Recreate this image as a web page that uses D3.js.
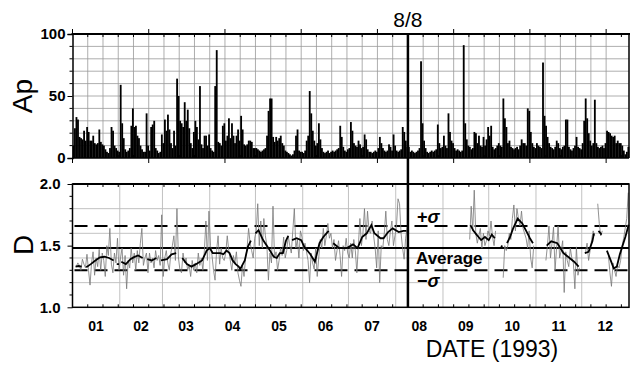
<!DOCTYPE html>
<html>
<head>
<meta charset="utf-8">
<script src="https://cdn.jsdelivr.net/npm/d3@7"></script>
<style>
  body { margin: 0; background: #fff; }
  svg { display: block; font-family: "Liberation Sans", Arial, sans-serif; }
</style>
</head>
<body>
<svg id="chart" width="632" height="366"></svg>
<script>
// daily Ap index, 1993 (day 0 = Jan 1)
const apValues = [
  10,24,33,31,17,16,15,22,14,25, 21,14,14,18,12,11,12,23,13,11,
  10,7,5,4,8,25,22,10,8,6,       5,59,28,16,7,5,6,8,26,40,
  25,26,18,16,10,7,5,5,36,10,    6,25,27,30,8,6,4,5,19,12,
  31,22,35,23,12,8,22,10,64,50,  30,28,25,45,30,39,24,12,8,21,
  30,25,15,58,11,8,18,18,10,19,  8,6,5,58,87,13,12,10,26,28,
  14,18,32,16,28,18,12,18,23,14, 34,23,11,10,11,14,14,13,8,8,
  8,7,6,5,6,7,8,18,38,48,        48,17,13,17,14,16,18,12,10,6,
  5,4,3,2,3,6,18,23,6,5,         5,4,6,14,18,54,36,22,14,10,
  12,28,15,8,5,4,5,6,4,5,        6,5,6,7,8,26,17,9,6,5,
  7,8,29,22,12,10,9,14,11,8,     9,19,15,7,5,5,4,5,6,5,
  8,17,12,8,6,5,6,11,9,6,        19,10,6,5,6,7,25,21,14,9,
  9,5,6,5,4,5,6,8,78,28,         14,8,5,4,5,6,5,6,7,27,
  12,8,9,18,10,8,36,21,14,12,    8,6,7,6,5,6,91,28,15,10,
  9,7,8,21,20,12,18,10,9,17,     10,15,25,18,26,9,7,8,10,12,
  10,9,48,32,25,12,14,9,8,7,     8,9,7,10,15,12,12,10,40,38,
  21,12,9,8,12,10,9,8,77,34,     26,17,12,9,8,7,9,14,12,8,
  7,9,10,31,31,9,7,6,8,10,       17,9,8,7,12,30,48,32,20,14,
  10,12,47,12,9,8,9,10,8,12,     22,21,20,18,17,18,12,14,12,12,
  10,6,3,5,9
];

// daily D values (null = no data)
const dValues = [
  null,null,1.33,1.36,1.34,1.30,1.39,1.35,1.32,1.43,
  1.30,1.18,1.36,1.45,1.26,1.40,1.33,1.47,1.30,1.44,
  1.38,1.25,1.50,1.42,1.64,1.35,1.28,1.44,1.36,1.56,
  1.30,1.40,1.48,1.26,1.42,1.15,1.38,1.32,1.48,1.36,
  1.44,1.30,1.46,1.36,1.52,1.64,1.34,1.40,1.44,1.28,
  1.44,1.36,1.40,1.32,1.46,1.38,1.42,1.34,1.75,1.25,
  1.40,1.46,1.36,1.30,1.44,1.50,1.58,1.38,1.80,1.40,
  1.30,1.28,1.44,1.36,1.40,1.30,1.34,1.25,1.38,1.30,
  1.36,1.28,1.44,1.34,1.40,1.30,1.46,1.70,1.38,1.78,
  1.50,1.42,1.30,1.22,1.46,1.58,1.35,1.48,1.40,1.38,
  1.44,1.58,1.46,1.38,1.30,1.42,1.36,1.45,1.28,1.22,
  1.17,1.34,1.25,1.40,1.48,1.64,1.52,1.46,1.40,1.56,
  1.62,1.84,1.50,1.70,1.48,1.72,1.58,1.50,1.22,1.44,
  1.36,1.82,1.40,1.45,1.30,1.38,1.48,1.42,1.57,1.40,
  1.46,1.58,1.50,1.44,1.62,1.80,1.48,1.55,1.40,1.62,
  1.57,1.46,1.52,1.45,1.38,1.20,1.44,1.36,1.31,1.48,
  1.25,1.40,1.55,1.48,1.64,1.50,1.58,1.68,1.56,1.60,
  1.48,1.55,1.38,1.46,1.54,1.42,1.25,1.50,1.46,1.56,
  1.44,1.40,1.52,1.40,1.55,1.46,1.28,1.50,1.72,1.50,
  1.60,1.80,1.55,1.78,1.62,1.60,1.70,1.58,1.48,1.32,
  1.62,1.20,1.50,1.48,1.60,1.78,1.55,1.50,1.62,1.70,
  1.50,1.58,1.66,1.88,1.84,1.60,1.48,1.39,1.56,1.65,
  null,null,null,null,null,null,null,null,null,null,
  null,null,null,null,null,null,null,null,null,null,
  null,null,null,null,null,null,null,null,null,null,
  null,null,null,null,null,null,null,null,null,null,
  1.55,1.82,1.62,1.95,1.60,1.52,1.58,1.64,1.48,1.60,
  1.50,1.54,1.62,1.58,1.70,1.57,1.50,1.62,null,null,
  null,null,1.24,1.50,1.46,1.50,1.60,1.55,1.72,1.83,
  1.62,1.80,1.72,1.66,1.78,1.64,1.60,1.56,1.48,1.62,
  1.40,1.32,1.50,null,null,null,null,null,null,null,
  1.38,1.50,1.66,1.40,1.52,1.65,1.30,1.48,1.66,1.40,
  1.46,1.54,1.12,1.45,1.38,1.33,1.48,1.40,1.36,1.15,
  1.49,1.26,1.32,null,null,null,1.45,1.52,1.38,1.46,
  1.55,1.62,1.58,null,1.84,1.68,1.58,1.62,null,null,
  null,1.42,1.28,1.17,1.36,1.30,1.25,1.34,1.32,1.38,
  1.50,1.56,1.64,1.72,1.93
];

// running mean of D (null breaks the line)
const meanDays = [
  2,4,6,7,9,12,15,18,21,24,27,28,29,30.5,31,32,35,38,40,43,46,47,49,52,55,56.5,
  58,62,65,68,70,72,75,78,81,85,88,90,92,95,97,99,101,103,105,107,109,110,113,115,117,118.5,
  120,122,125,128,132,134,136,138,140,141.5,142.5,144,147,150,152,156,159,162,164.5,168,169.5,
  171,175,180,184,187,190,193,196,198,202,204,207,210,214,217,219,240,
  261,263,265,267,268,270.5,273,275,277,279,281,282,283,
  285,287,289,292,295,298,300,302,306,311,314,318,322,325,329,332,334,
  336,338.5,341,342,343.5,345,347,349,350.5,353,355,357,359,362.6,364.8
];
const meanValues = [
  1.33,1.335,1.33,null,1.325,1.35,1.38,1.405,1.41,1.40,1.38,null,1.35,1.35,null,1.37,1.35,1.39,1.405,1.42,1.40,null,1.39,1.38,1.40,null,
  1.38,1.39,1.43,1.44,null,1.40,1.35,1.33,1.35,1.38,1.46,1.48,1.44,1.44,1.44,1.43,1.46,1.44,1.38,1.35,1.33,1.31,1.38,1.49,1.54,null,
  1.60,1.625,1.545,1.49,1.41,1.40,1.44,1.44,1.54,1.58,null,1.545,1.56,1.545,1.49,1.43,1.37,1.52,1.57,1.62,null,
  1.52,1.48,1.48,1.51,1.48,1.57,1.60,1.667,1.60,1.56,1.56,1.61,1.64,1.61,1.62,1.62,null,
  1.667,1.62,1.59,1.56,1.545,1.57,1.545,1.59,1.56,null,1.49,1.50,null,
  1.52,1.57,1.64,1.72,1.68,1.61,1.56,1.52,null,1.50,1.535,1.52,1.44,1.41,1.37,1.33,null,
  1.44,1.45,1.535,1.60,null,1.62,1.59,null,1.46,1.38,1.315,1.33,1.43,1.57,1.67
];

const monthLabels = ["01","02","03","04","05","06","07","08","09","10","11","12"];
const apTicks = [0, 50, 100];
const dTicks = [1.0, 1.5, 2.0];
const dAverage = 1.48, dSigmaPlus = 1.66, dSigmaMinus = 1.30;
const markerLabel = "8/8";
const markerDate = Date.UTC(1993, 7, 8);

const svg = d3.select('#chart');
const start = Date.UTC(1993, 0, 1);
const dayDate = d => new Date(start + d * 864e5);

const x = d3.scaleUtc()
    .domain([new Date(start), new Date(Date.UTC(1994, 0, 1))])
    .range([72.5, 629]);
const yAp = d3.scaleLinear().domain([0, 100]).range([158, 34]);
const yD = d3.scaleLinear().domain([1, 2]).range([307.3, 184]);

const x0 = x.range()[0], x1 = x.range()[1];
const tenDays = d3.range(0, 366, 10);

// ---------- top panel (Ap) ----------
const apPanel = svg.append('g');
apPanel.append('g').selectAll('line')
    .data(d3.range(10, 100, 10))
    .join('line')
    .attr('x1', x0).attr('x2', x1)
    .attr('y1', d => yAp(d)).attr('y2', d => yAp(d))
    .attr('stroke', '#999').attr('stroke-width', 0.8);
apPanel.append('g').selectAll('line')
    .data(tenDays.slice(1, -1))
    .join('line')
    .attr('x1', d => x(dayDate(d))).attr('x2', d => x(dayDate(d)))
    .attr('y1', yAp(100)).attr('y2', yAp(0))
    .attr('stroke', '#999').attr('stroke-width', 0.8);

apPanel.append('g').selectAll('rect')
    .data(apValues)
    .join('rect')
    .attr('x', (d, i) => x(dayDate(i)))
    .attr('width', (d, i) => x(dayDate(i + 1)) - x(dayDate(i)) + 0.3)
    .attr('y', d => yAp(d))
    .attr('height', d => yAp(0) - yAp(d))
    .attr('fill', '#000');

// frame
apPanel.append('line').attr('x1', x0 - 1).attr('x2', x1 + 1).attr('y1', yAp(100)).attr('y2', yAp(100))
    .attr('stroke', '#000').attr('stroke-width', 2);
apPanel.append('line').attr('x1', x1).attr('x2', x1).attr('y1', yAp(100)).attr('y2', yAp(0))
    .attr('stroke', '#000').attr('stroke-width', 1.5);
apPanel.append('line').attr('x1', x0).attr('x2', x1).attr('y1', yAp(0)).attr('y2', yAp(0))
    .attr('stroke', '#000').attr('stroke-width', 1.5);

const apAxis = apPanel.append('g')
    .attr('transform', `translate(${x0},0)`)
    .call(d3.axisLeft(yAp).tickValues(apTicks).tickSize(5).tickPadding(2));
apAxis.select('.domain').attr('stroke-width', 1.5);
apAxis.selectAll('text').attr('font-size', 15).attr('font-weight', 'bold').attr('fill', '#000')
    .attr('font-family', '"Liberation Sans", Arial, sans-serif');
apPanel.append('g').selectAll('line')
    .data(d3.range(10, 100, 10).filter(v => v !== 50))
    .join('line')
    .attr('x1', x0 - 3).attr('x2', x0)
    .attr('y1', d => yAp(d)).attr('y2', d => yAp(d))
    .attr('stroke', '#000');

// time ticks on top panel
function timeTicks(g, yEdge, dir) {
  g.append('g').selectAll('line')
    .data(tenDays)
    .join('line')
    .attr('x1', d => x(dayDate(d))).attr('x2', d => x(dayDate(d)))
    .attr('y1', yEdge).attr('y2', d => d % 50 === 0 ? yEdge - dir * 5 : yEdge + dir * 3)
    .attr('stroke', '#000').attr('stroke-width', 1);
}
timeTicks(apPanel, yAp(100), 1);
timeTicks(apPanel, yAp(0), -1);

apPanel.append('text')
    .attr('transform', `translate(32,96) rotate(-90)`)
    .attr('text-anchor', 'middle')
    .attr('font-size', 28)
    .text('Ap');

// ---------- bottom panel (D) ----------
const dPanel = svg.append('g');
const months = d3.utcMonth.range(new Date(start), new Date(Date.UTC(1994, 0, 1)));

dPanel.append('g').selectAll('line')
    .data([1.2, 1.4, 1.6, 1.8])
    .join('line')
    .attr('x1', x0).attr('x2', x1)
    .attr('y1', d => yD(d)).attr('y2', d => yD(d))
    .attr('stroke', '#bbb').attr('stroke-width', 0.9);
dPanel.append('g').selectAll('line')
    .data(months.slice(1))
    .join('line')
    .attr('x1', d => x(d)).attr('x2', d => x(d))
    .attr('y1', yD(2)).attr('y2', yD(1))
    .attr('stroke', '#bbb').attr('stroke-width', 0.9);

dPanel.append('line').attr('x1', x0).attr('x2', x1)
    .attr('y1', yD(dAverage)).attr('y2', yD(dAverage))
    .attr('stroke', '#000').attr('stroke-width', 2);
dPanel.append('g').selectAll('line')
    .data([dSigmaPlus, dSigmaMinus])
    .join('line')
    .attr('x1', x0 + 2).attr('x2', x1)
    .attr('y1', d => yD(d)).attr('y2', d => yD(d))
    .attr('stroke', '#000').attr('stroke-width', 2)
    .attr('stroke-dasharray', '13,7');

const grayLine = d3.line()
    .defined(d => d !== null)
    .x((d, i) => x(dayDate(i + 0.5)))
    .y(d => yD(d));
dPanel.append('path')
    .datum(dValues)
    .attr('d', grayLine)
    .attr('fill', 'none')
    .attr('stroke', '#777')
    .attr('stroke-width', 0.8);

const meanLine = d3.line()
    .defined(d => d[1] !== null)
    .x(d => x(dayDate(d[0])))
    .y(d => yD(d[1]));
dPanel.append('path')
    .datum(meanDays.map((d, i) => [d, meanValues[i]]))
    .attr('d', meanLine)
    .attr('fill', 'none')
    .attr('stroke', '#000')
    .attr('stroke-width', 1.8);

// frame
dPanel.append('rect')
    .attr('x', x0).attr('y', yD(2))
    .attr('width', x1 - x0).attr('height', yD(1) - yD(2))
    .attr('fill', 'none').attr('stroke', '#000').attr('stroke-width', 1.5);
dPanel.append('line').attr('x1', x0).attr('x2', x1).attr('y1', yD(2)).attr('y2', yD(2))
    .attr('stroke', '#000').attr('stroke-width', 2);

const dAxis = dPanel.append('g')
    .attr('transform', `translate(${x0},0)`)
    .call(d3.axisLeft(yD).tickValues(dTicks).tickSize(5).tickPadding(7).tickFormat(d3.format('.1f')));
dAxis.select('.domain').remove();
dAxis.selectAll('text').attr('font-size', 15).attr('font-weight', 'bold').attr('fill', '#000')
    .attr('font-family', '"Liberation Sans", Arial, sans-serif');
dPanel.append('g').selectAll('line')
    .data(d3.range(1.1, 2.0, 0.1).filter(v => Math.abs(v - 1.5) > 0.01))
    .join('line')
    .attr('x1', x0 - 3).attr('x2', x0)
    .attr('y1', d => yD(d)).attr('y2', d => yD(d))
    .attr('stroke', '#000');

dPanel.append('g').selectAll('line')
    .data(tenDays)
    .join('line')
    .attr('x1', d => x(dayDate(d))).attr('x2', d => x(dayDate(d)))
    .attr('y1', yD(2)).attr('y2', yD(2) + 3)
    .attr('stroke', '#000');
dPanel.append('g').selectAll('line')
    .data(tenDays)
    .join('line')
    .attr('x1', d => x(dayDate(d))).attr('x2', d => x(dayDate(d)))
    .attr('y1', yD(1)).attr('y2', yD(1) - 3)
    .attr('stroke', '#000');

dPanel.append('g').selectAll('text')
    .data(months)
    .join('text')
    .attr('x', d => x(new Date(+d + (d3.utcMonth.offset(d, 1) - d) / 2)))
    .attr('y', 331)
    .attr('text-anchor', 'middle')
    .attr('font-size', 14)
    .attr('font-weight', 'bold')
    .text((d, i) => monthLabels[i]);

dPanel.append('text')
    .attr('transform', `translate(33,245) rotate(-90)`)
    .attr('text-anchor', 'middle')
    .attr('font-size', 28)
    .text('D');

dPanel.append('text')
    .attr('x', 492).attr('y', 357)
    .attr('text-anchor', 'middle')
    .attr('font-size', 23)
    .text('DATE (1993)');

// sigma / average labels
const plus = dPanel.append('text').attr('x', 417).attr('y', 223)
    .attr('font-size', 18).attr('font-weight', 'bold');
plus.append('tspan').text('+');
plus.append('tspan').attr('font-style', 'italic').text('σ');
dPanel.append('text').attr('x', 416).attr('y', 264)
    .attr('font-size', 17).attr('font-weight', 'bold').text('Average');
const minus = dPanel.append('text').attr('x', 417).attr('y', 287)
    .attr('font-size', 18).attr('font-weight', 'bold');
minus.append('tspan').text('−');
minus.append('tspan').attr('font-style', 'italic').text('σ');

// ---------- 8/8 marker ----------
const mx = x(d3.utcDay.offset(new Date(markerDate), 1));
svg.append('line')
    .attr('x1', mx).attr('x2', mx)
    .attr('y1', yAp(100)).attr('y2', yD(1))
    .attr('stroke', '#000').attr('stroke-width', 2.5);
svg.append('text')
    .attr('x', mx).attr('y', 27)
    .attr('text-anchor', 'middle')
    .attr('font-size', 21)
    .text(markerLabel);
</script>
</body>
</html>
